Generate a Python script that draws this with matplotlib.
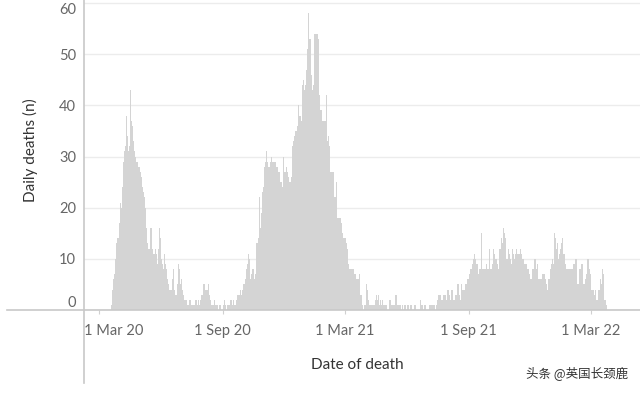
import pandas as pd
import matplotlib
matplotlib.use("Agg")
import matplotlib.pyplot as plt
from matplotlib.lines import Line2D
from matplotlib.transforms import ScaledTranslation

# daily deaths, one value per day starting from first_day
first_day = "2020-03-19"
daily_deaths = [
    1, 2, 4, 6, 7, 7, 10, 10, 13, 14,
    15, 14, 17, 18, 21, 20, 25, 24, 29, 28,
    31, 32, 43, 38, 34, 35, 31, 32, 43, 40,
    37, 36, 35, 33, 31, 30, 30, 29, 31, 29,
    28, 29, 28, 27, 29, 26, 24, 23, 23, 22,
    23, 20, 16, 14, 13, 12, 13, 12, 16, 15,
    16, 12, 11, 11, 11, 10, 12, 11, 10, 9,
    12, 10, 16, 14, 10, 9, 9, 8, 12, 11,
    9, 8, 8, 6, 5, 5, 4, 3, 4, 4,
    7, 6, 8, 7, 4, 3, 4, 3, 5, 4,
    9, 8, 6, 5, 6, 4, 4, 3, 4, 2,
    2, 1, 2, 1, 1, 1, 2, 2, 2, 1,
    1, 1, 1, 1, 1, 2, 2, 2, 1, 2,
    2, 1, 2, 3, 3, 3, 4, 5, 5, 4,
    4, 4, 3, 4, 5, 5, 3, 2, 2, 1,
    1, 1, 1, 2, 2, 1, 1, 0, 1, 0,
    1, 1, 1, 0, 0, 0, 1, 2, 2, 1,
    0, 0, 1, 0, 1, 1, 1, 2, 2, 2,
    1, 2, 1, 1, 1, 2, 2, 3, 2, 3,
    3, 3, 4, 3, 4, 4, 5, 4, 5, 6,
    5, 8, 9, 9, 11, 10, 7, 6, 7, 6,
    8, 8, 6, 6, 7, 13, 12, 13, 14, 28,
    22, 16, 17, 19, 23, 22, 24, 28, 27, 29,
    31, 30, 29, 28, 29, 28, 29, 29, 30, 29,
    30, 29, 29, 28, 29, 28, 27, 28, 27, 26,
    27, 25, 24, 25, 24, 32, 30, 27, 27, 26,
    28, 27, 28, 26, 25, 24, 25, 26, 33, 32,
    33, 33, 34, 35, 36, 35, 36, 48, 40, 38,
    37, 38, 37, 45, 44, 45, 44, 43, 44, 48,
    47, 51, 52, 58, 53, 52, 53, 46, 45, 43,
    44, 43, 54, 54, 54, 54, 54, 53, 43, 42,
    39, 38, 39, 37, 36, 37, 37, 38, 37, 42,
    40, 33, 34, 33, 32, 27, 28, 27, 27, 26,
    27, 22, 21, 22, 25, 24, 18, 18, 19, 18,
    18, 17, 17, 15, 15, 14, 14, 13, 14, 13,
    12, 13, 9, 8, 8, 8, 8, 7, 8, 8,
    8, 7, 7, 7, 6, 6, 6, 6, 7, 6,
    3, 3, 2, 1, 0, 1, 1, 1, 1, 5,
    4, 3, 2, 1, 2, 1, 1, 1, 1, 1,
    2, 1, 2, 1, 3, 2, 3, 1, 1, 2,
    1, 1, 2, 1, 1, 1, 1, 1, 1, 0,
    0, 0, 0, 2, 2, 1, 1, 1, 2, 1,
    1, 1, 3, 3, 2, 1, 1, 2, 1, 1,
    1, 0, 1, 0, 0, 1, 1, 1, 0, 1,
    1, 1, 0, 1, 1, 1, 0, 0, 0, 0,
    1, 1, 1, 0, 0, 0, 0, 0, 2, 2,
    1, 0, 1, 0, 1, 1, 1, 1, 0, 0,
    1, 0, 1, 1, 1, 1, 1, 1, 1, 1,
    1, 0, 1, 1, 2, 2, 3, 3, 3, 2,
    2, 2, 3, 3, 3, 3, 3, 2, 3, 4,
    4, 4, 3, 2, 3, 4, 4, 4, 2, 2,
    2, 3, 3, 4, 5, 5, 4, 3, 2, 3,
    5, 4, 5, 4, 4, 3, 5, 5, 5, 6,
    6, 6, 7, 8, 8, 10, 9, 10, 11, 11,
    10, 9, 9, 9, 7, 7, 8, 8, 8, 15,
    12, 8, 8, 8, 8, 8, 9, 9, 8, 8,
    8, 12, 11, 8, 8, 8, 9, 12, 12, 11,
    10, 10, 10, 9, 9, 8, 12, 11, 12, 14,
    13, 14, 16, 15, 14, 14, 10, 9, 10, 12,
    12, 11, 10, 10, 9, 12, 12, 11, 10, 10,
    11, 12, 12, 11, 11, 11, 11, 12, 12, 11,
    10, 10, 10, 9, 9, 9, 9, 9, 8, 8,
    8, 7, 6, 6, 6, 8, 8, 7, 10, 10,
    9, 8, 9, 8, 6, 6, 6, 6, 6, 6,
    7, 7, 7, 7, 6, 7, 5, 4, 5, 6,
    6, 6, 8, 9, 8, 10, 9, 10, 15, 14,
    13, 12, 13, 11, 10, 11, 13, 12, 13, 15,
    14, 11, 11, 10, 9, 8, 9, 8, 8, 7,
    8, 8, 9, 8, 8, 7, 9, 9, 9, 10,
    10, 9, 5, 5, 6, 8, 8, 7, 9, 9,
    9, 5, 5, 6, 6, 7, 6, 10, 10, 9,
    8, 7, 7, 4, 4, 4, 4, 3, 4, 2,
    2, 2, 4, 4, 4, 5, 6, 5, 8, 8,
    7, 2, 2, 2, 1, 1,
]

y_ticks = [0, 10, 20, 30, 40, 50, 60]
x_ticks = ["2020-03-01", "2020-09-01", "2021-03-01", "2021-09-01", "2022-03-01"]
x_tick_labels = ["1 Mar 20", "1 Sep 20", "1 Mar 21", "1 Sep 21", "1 Mar 22"]

dates = pd.date_range(first_day, periods=len(daily_deaths), freq="D")

plt.rcParams["font.family"] = ["Lato", "DejaVu Sans"]

W, H = 640, 393
fig = plt.figure(figsize=(W / 100, H / 100), dpi=100)
ax = fig.add_axes([84 / W, 83 / H, 1 - 84 / W, 310 / H])

bar_color = "#d4d4d4"
ax.bar(dates, daily_deaths, width=1.0, align="edge",
       color=bar_color, linewidth=0, antialiased=False)

ax.set_xlim(pd.Timestamp("2020-02-08"), pd.Timestamp("2022-05-13"))
ax.set_ylim(0, 60.6)

ax.set_yticks(y_ticks)
ax.set_xticks(pd.to_datetime(x_ticks))
ax.set_xticklabels(x_tick_labels)

ax.yaxis.grid(True, color="#ececec", linewidth=1)
ax.set_axisbelow(True)
for s in ax.spines.values():
    s.set_visible(False)

ax.tick_params(axis="y", length=0, pad=5.8, labelsize=10.5, labelcolor="#666666")
ax.tick_params(axis="x", length=3, width=0.8, color="#d0d0d0", pad=7,
               labelsize=10.5, labelcolor="#666666")

# edge labels nudged inside, as in the original
ylabels = ax.get_yticklabels()
ylabels[0].set_va("bottom")
ylabels[-1].set_va("top")
xlabels = ax.get_xticklabels()
xlabels[0].set_ha("left")
xlabels[0].set_transform(xlabels[0].get_transform()
                         + ScaledTranslation(-15 / 100, 0, fig.dpi_scale_trans))

# axis rules that run past the plot area
line_color = "#c8c8c8"
fig.add_artist(Line2D([7 / W, 1], [83 / H, 83 / H], color=line_color, lw=1.2))
fig.add_artist(Line2D([84 / W, 84 / W], [10 / H, 1], color=line_color, lw=1.2))

fig.text(30 / W, 1 - 150 / H, "Daily deaths (n)", rotation=90, ha="center",
         va="center", fontsize=11, color="#333333")
fig.text(357 / W, 1 - 365 / H, "Date of death", ha="center", va="center",
         fontsize=11, color="#333333")
fig.text(628 / W, 1 - 373 / H, "头条 @英国长颈鹿", ha="right", va="center",
         fontsize=9, color="#333333", family=["Noto Sans CJK SC", "DejaVu Sans"])

fig.savefig("out.png", dpi=100)
